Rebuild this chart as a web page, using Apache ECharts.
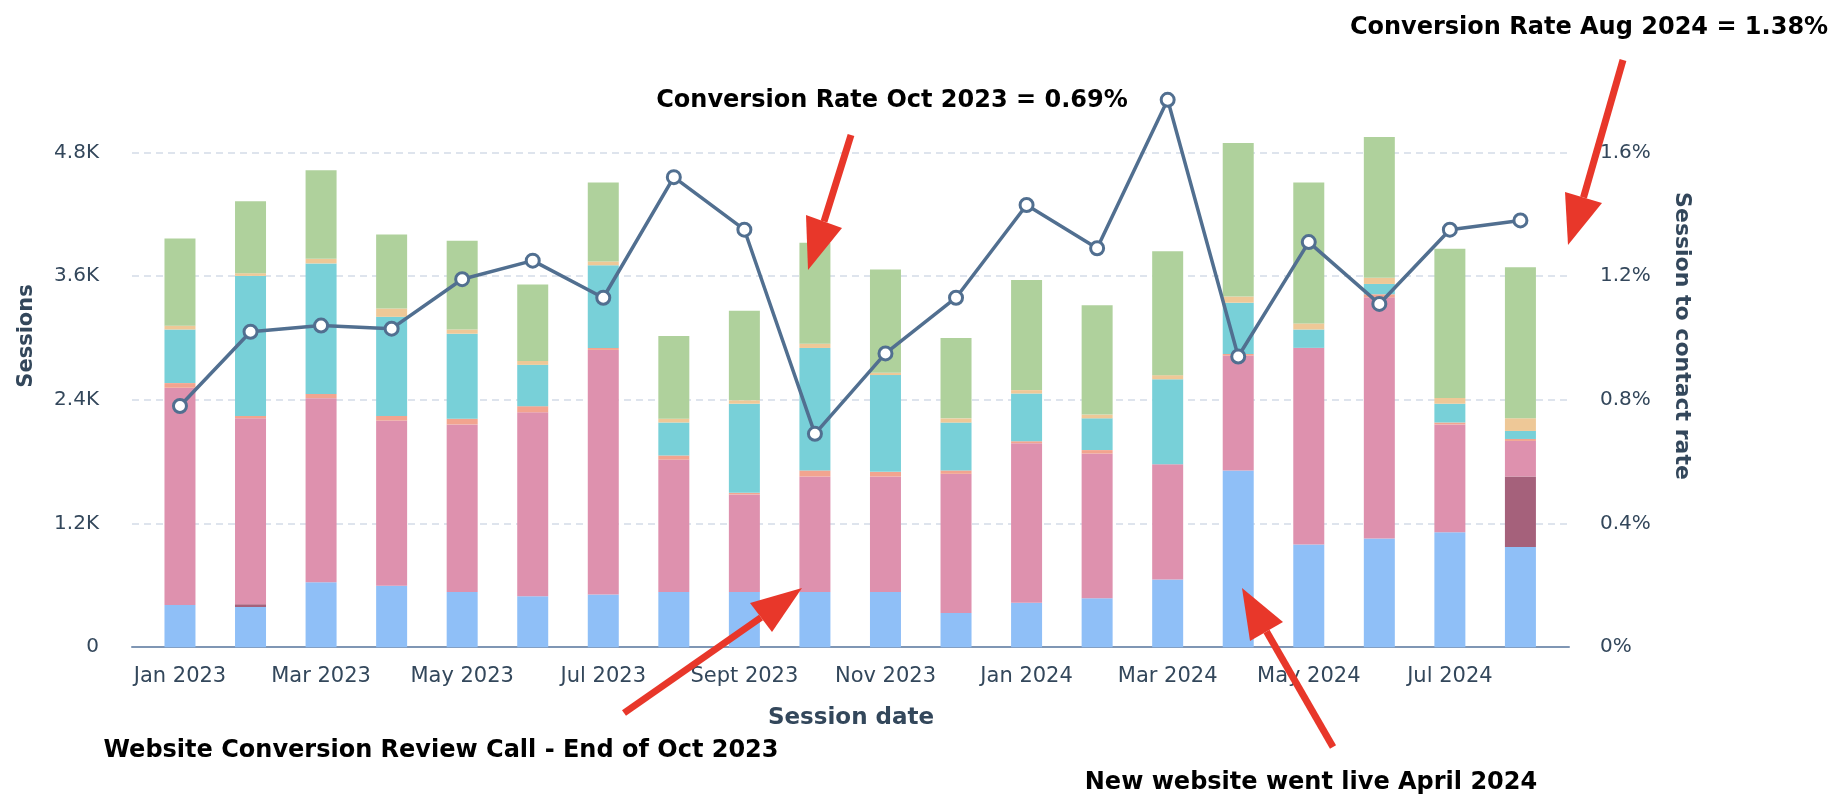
<!DOCTYPE html>
<html>
<head>
<meta charset="utf-8">
<title>Sessions by source and session to contact rate</title>
<script src="https://cdn.jsdelivr.net/npm/echarts@6.0.0/dist/echarts.min.js"></script>
<style>
  html, body { margin: 0; padding: 0; background: #fff; }
  #chart { width: 1836px; height: 800px; }
</style>
</head>
<body>
<div id="chart"></div>
<script>
const months = ['Jan 2023', 'Feb 2023', 'Mar 2023', 'Apr 2023', 'May 2023', 'Jun 2023', 'Jul 2023', 'Aug 2023',
  'Sept 2023', 'Oct 2023', 'Nov 2023', 'Dec 2023', 'Jan 2024', 'Feb 2024', 'Mar 2024', 'Apr 2024',
  'May 2024', 'Jun 2024', 'Jul 2024', 'Aug 2024']

// sessions per source, stacked bottom to top
const organicSearch = [409, 390, 631, 595, 535, 494, 512, 535, 535, 535, 535, 331, 431, 476, 657, 1715, 996, 1055, 1114, 973]
const aiReferrals   = [0, 27, 0, 0, 0, 0, 0, 0, 0, 0, 0, 0, 0, 0, 0, 0, 0, 0, 0, 683]
const directTraffic = [2108, 1804, 1785, 1604, 1626, 1785, 2372, 1285, 947, 1121, 1121, 1351, 1548, 1403, 1118, 1114, 1908, 2339, 1047, 345]
const emailMarketing = [45, 22, 41, 45, 56, 59, 19, 40, 16, 59, 45, 33, 19, 33, 0, 16, 0, 30, 19, 19]
const paidSearch    = [520, 1359, 1266, 961, 824, 401, 802, 320, 864, 1188, 939, 464, 463, 308, 824, 497, 178, 100, 182, 78]
const otherCampaigns = [37, 26, 45, 81, 41, 38, 37, 37, 33, 41, 22, 41, 33, 37, 40, 60, 59, 59, 56, 123]
const referrals     = [846, 698, 858, 717, 861, 742, 765, 802, 869, 980, 1002, 780, 1069, 1061, 1203, 1488, 1366, 1366, 1448, 1466]

// session to contact rate, %
const contactRate = [0.78, 1.02, 1.04, 1.03, 1.19, 1.25, 1.13, 1.52, 1.35, 0.69, 0.95, 1.13, 1.43, 1.29, 1.77, 0.94, 1.31, 1.11, 1.35, 1.38]

const sessionTicks = ['0', '1.2K', '2.4K', '3.6K', '4.8K']
const rateTicks = ['0%', '0.4%', '0.8%', '1.2%', '1.6%']

const textColor = '#33475b'
const arrowRed = '#e8372a'
const labelFont = '"DejaVu Sans", sans-serif'

const chart = echarts.init(document.getElementById('chart'), null, { renderer: 'canvas' })

const sources = [
  { name: 'Organic search', data: organicSearch, color: '#8fbff7' },
  { name: 'AI referrals', data: aiReferrals, color: '#a5617b' },
  { name: 'Direct traffic', data: directTraffic, color: '#de91ae' },
  { name: 'Email marketing', data: emailMarketing, color: '#f2a48f' },
  { name: 'Paid search', data: paidSearch, color: '#78d0d8' },
  { name: 'Other campaigns', data: otherCampaigns, color: '#eec897' },
  { name: 'Referrals', data: referrals, color: '#afd19c' },
]

const barSeries = sources.map(s => ({
  name: s.name,
  type: 'bar',
  stack: 'sessions',
  xAxisIndex: 1,
  yAxisIndex: 2,
  barWidth: 31,
  clip: false,
  itemStyle: { color: s.color },
  data: s.data,
}))

// arrow = shaft from tail to head base, plus a triangle head
function arrow(tail, tip, b1, b2) {
  const mid = [(b1[0] + b2[0]) / 2, (b1[1] + b2[1]) / 2]
  return [
    {
      type: 'line',
      shape: { x1: tail[0], y1: tail[1], x2: mid[0], y2: mid[1] },
      style: { stroke: arrowRed, lineWidth: 7 },
      z: 100,
    },
    {
      type: 'polygon',
      shape: { points: [tip, b1, b2] },
      style: { fill: arrowRed },
      z: 100,
    },
  ]
}

function note(text, x, y) {
  return {
    type: 'text',
    x: x,
    y: y,
    z: 100,
    style: {
      text: text,
      font: 'bold 24px ' + labelFont,
      fill: '#000',
      align: 'center',
      verticalAlign: 'middle',
      textAlign: 'center',
      textVerticalAlign: 'middle',
    },
  }
}

function axisName(text, x, y, rotation, size) {
  return {
    type: 'text',
    x: x,
    y: y,
    rotation: rotation,
    style: {
      text: text,
      font: 'bold ' + size + 'px ' + labelFont,
      fill: textColor,
      align: 'center',
      verticalAlign: 'middle',
      textAlign: 'center',
      textVerticalAlign: 'middle',
    },
  }
}

const option = {
  animation: false,
  backgroundColor: '#fff',
  grid: [
    // frame: gridlines, y labels, baseline
    { left: 132, right: 267, top: 152.4, bottom: 152.8 },
    // bars and line
    { left: 144.7, right: 280.3, top: 152.4, bottom: 152.8 },
  ],
  xAxis: [
    {
      type: 'value',
      gridIndex: 0,
      min: 0,
      max: 1,
      axisLine: { show: true, lineStyle: { color: '#7f96b4', width: 2 } },
      axisTick: { show: false },
      axisLabel: { show: false },
      splitLine: { show: false },
    },
    {
      type: 'category',
      gridIndex: 1,
      data: months,
      axisLine: { show: false },
      axisTick: { show: false },
      axisLabel: {
        interval: 1,
        margin: 19,
        color: textColor,
        fontFamily: labelFont,
        fontSize: 21,
      },
    },
  ],
  yAxis: [
    {
      type: 'value',
      gridIndex: 0,
      min: 0,
      max: 4800,
      interval: 1200,
      axisLine: { show: false },
      axisTick: { show: false },
      axisLabel: {
        margin: 33,
        color: textColor,
        fontFamily: labelFont,
        fontSize: 20,
        formatter: v => sessionTicks[Math.round(v / 1200)],
      },
      splitLine: { lineStyle: { color: '#d3dbe7', width: 1.5, type: [7, 5] } },
    },
    {
      type: 'value',
      gridIndex: 0,
      position: 'right',
      min: 0,
      max: 1.6,
      interval: 0.4,
      axisLine: { show: false },
      axisTick: { show: false },
      axisLabel: {
        margin: 31,
        color: textColor,
        fontFamily: labelFont,
        fontSize: 20,
        formatter: v => rateTicks[Math.round(v / 0.4)],
      },
      splitLine: { show: false },
    },
    { type: 'value', gridIndex: 1, min: 0, max: 4800, show: false },
    { type: 'value', gridIndex: 1, min: 0, max: 1.6, show: false, position: 'right' },
  ],
  series: [
    ...barSeries,
    {
      name: 'Session to contact rate',
      type: 'line',
      xAxisIndex: 1,
      yAxisIndex: 3,
      data: contactRate,
      clip: false,
      z: 10,
      symbol: 'circle',
      symbolSize: 13,
      showAllSymbol: true,
      lineStyle: { color: '#516f90', width: 3.5 },
      itemStyle: { color: '#fff', borderColor: '#516f90', borderWidth: 3 },
    },
  ],
  graphic: [
    axisName('Sessions', 27, 336, Math.PI / 2, 21),
    axisName('Session to contact rate', 1682, 336, -Math.PI / 2, 22),
    axisName('Session date', 851, 718, 0, 23),
    note('Conversion Rate Aug 2024 = 1.38%', 1589, 28),
    note('Conversion Rate Oct 2023 = 0.69%', 892, 101),
    note('Website Conversion Review Call - End of Oct 2023', 441, 751),
    note('New website went live April 2024', 1311, 783),
    ...arrow([1623, 60], [1568, 245], [1565, 192], [1602, 203]),
    ...arrow([851, 135], [808, 270], [806, 215], [842, 228]),
    ...arrow([624, 713], [802, 588], [750, 603], [772, 632]),
    ...arrow([1333, 747], [1242, 588], [1250, 641], [1283, 622]),
  ],
}

chart.setOption(option)
</script>
</body>
</html>
